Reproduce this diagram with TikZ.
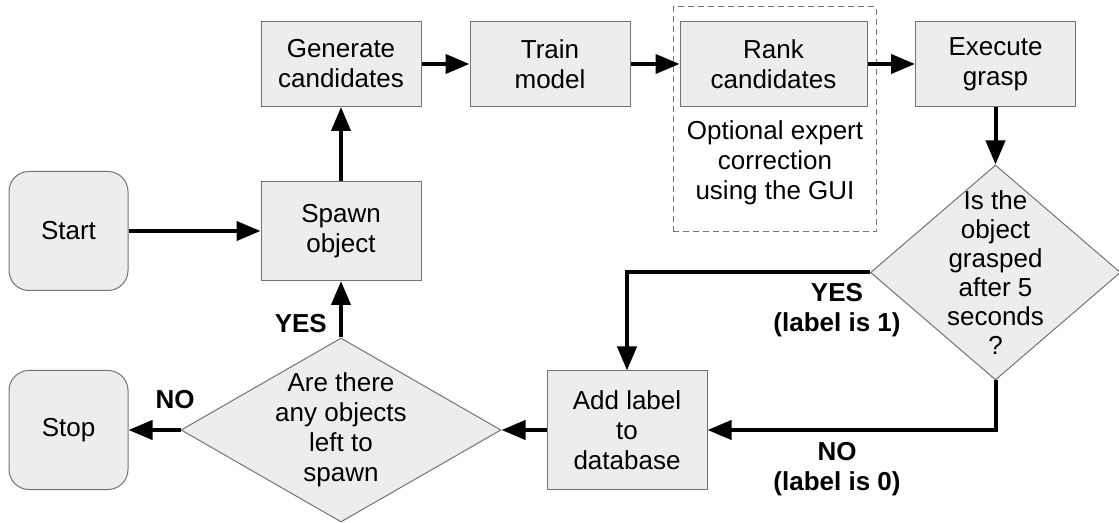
\documentclass[tikz,border=0pt]{standalone}
\usepackage{fontspec}
\setmainfont{Liberation Sans}
\usetikzlibrary{arrows.meta,calc,shapes.geometric}

\begin{document}
\begin{tikzpicture}[
  x=0.5pt, y=-0.5pt,
  font=\fontsize{13}{15}\selectfont,
  line width=0.5pt,
  blk/.style={draw=black!55, fill=black!7, align=center, inner sep=2pt},
  proc/.style={blk, minimum width=80pt, minimum height=42.5pt},
  term/.style={blk, rounded corners=10pt, minimum width=59.5pt, minimum height=59.5pt},
  dec/.style={draw=black!55, fill=black!7, diamond, inner sep=0pt},
  txt/.style={align=center},
  lbl/.style={align=center, font=\fontsize{13}{15}\selectfont\bfseries},
  flow/.style={-{Triangle[length=12pt,width=9.5pt]}, line width=2pt},
]
\useasboundingbox (0,0) rectangle (1119,523);

% ---------------- top row ----------------
\node[proc] (gen) at (341,64) {Generate\\candidates};
\node[proc] (train) at (550,64) {Train\\model};
\node[proc, minimum width=93.5pt] (rank) at (773.5,64) {Rank\\candidates};
\node[proc] (exec) at (995.5,64) {Execute\\grasp};

% optional correction frame
\coordinate (optSW) at (673,232);
\coordinate (optNE) at (876,7);
\draw[draw=black!55, dash pattern=on 3pt off 2pt] (optSW) rectangle (optNE);
\node[txt] (opt) at (775,163) {Optional expert\\correction\\using the GUI};

% ---------------- left side ----------------
\node[term] (start) at (68.5,231) {Start};
\node[proc, minimum height=49.5pt] (spawn) at (341,231) {Spawn\\object};
\node[term] (stop) at (68.5,430) {Stop};
\node[dec, minimum width=160pt, minimum height=92pt] (more) at (341,430) {};
\node[txt] (moretxt) at (more.center) {Are there\\any objects\\left to\\spawn};

% ---------------- right side ----------------
\node[proc, minimum height=59pt] (add) at (627,430) {Add label\\to\\database};
\node[dec, minimum width=125pt, minimum height=107.5pt] (grasp) at (995.5,272.5) {};
\node[txt, font=\fontsize{13}{14.5}\selectfont] (grasptxt) at (grasp.center)
  {Is the\\object\\grasped\\after 5\\seconds\\?};

% ---------------- connectors ----------------
\draw[flow] (start) -- (spawn);
\draw[flow] (spawn) -- (gen);
\draw[flow] (gen) -- (train);
\draw[flow] (train) -- (rank);
\draw[flow] (rank) -- (exec);
\draw[flow] (exec) -- (grasp);
\draw[flow] (grasp.west) -| (add.north);
\draw[flow] (grasp.south) |- (add.east);
\draw[flow] (add.west) -- (more.east);
\draw[flow] (more.west) -- (stop.east);
\draw[flow] (more.north) -- (spawn.south);

% branch labels
\node[lbl, anchor=east] (yesup) at (334,324) {YES};
\node[lbl] (nostop) at (175,400) {NO};
\node[lbl] (yes1) at (837,310) {YES\\(label is 1)};
\node[lbl] (no0) at (837,469) {NO\\(label is 0)};

\end{tikzpicture}
\end{document}
